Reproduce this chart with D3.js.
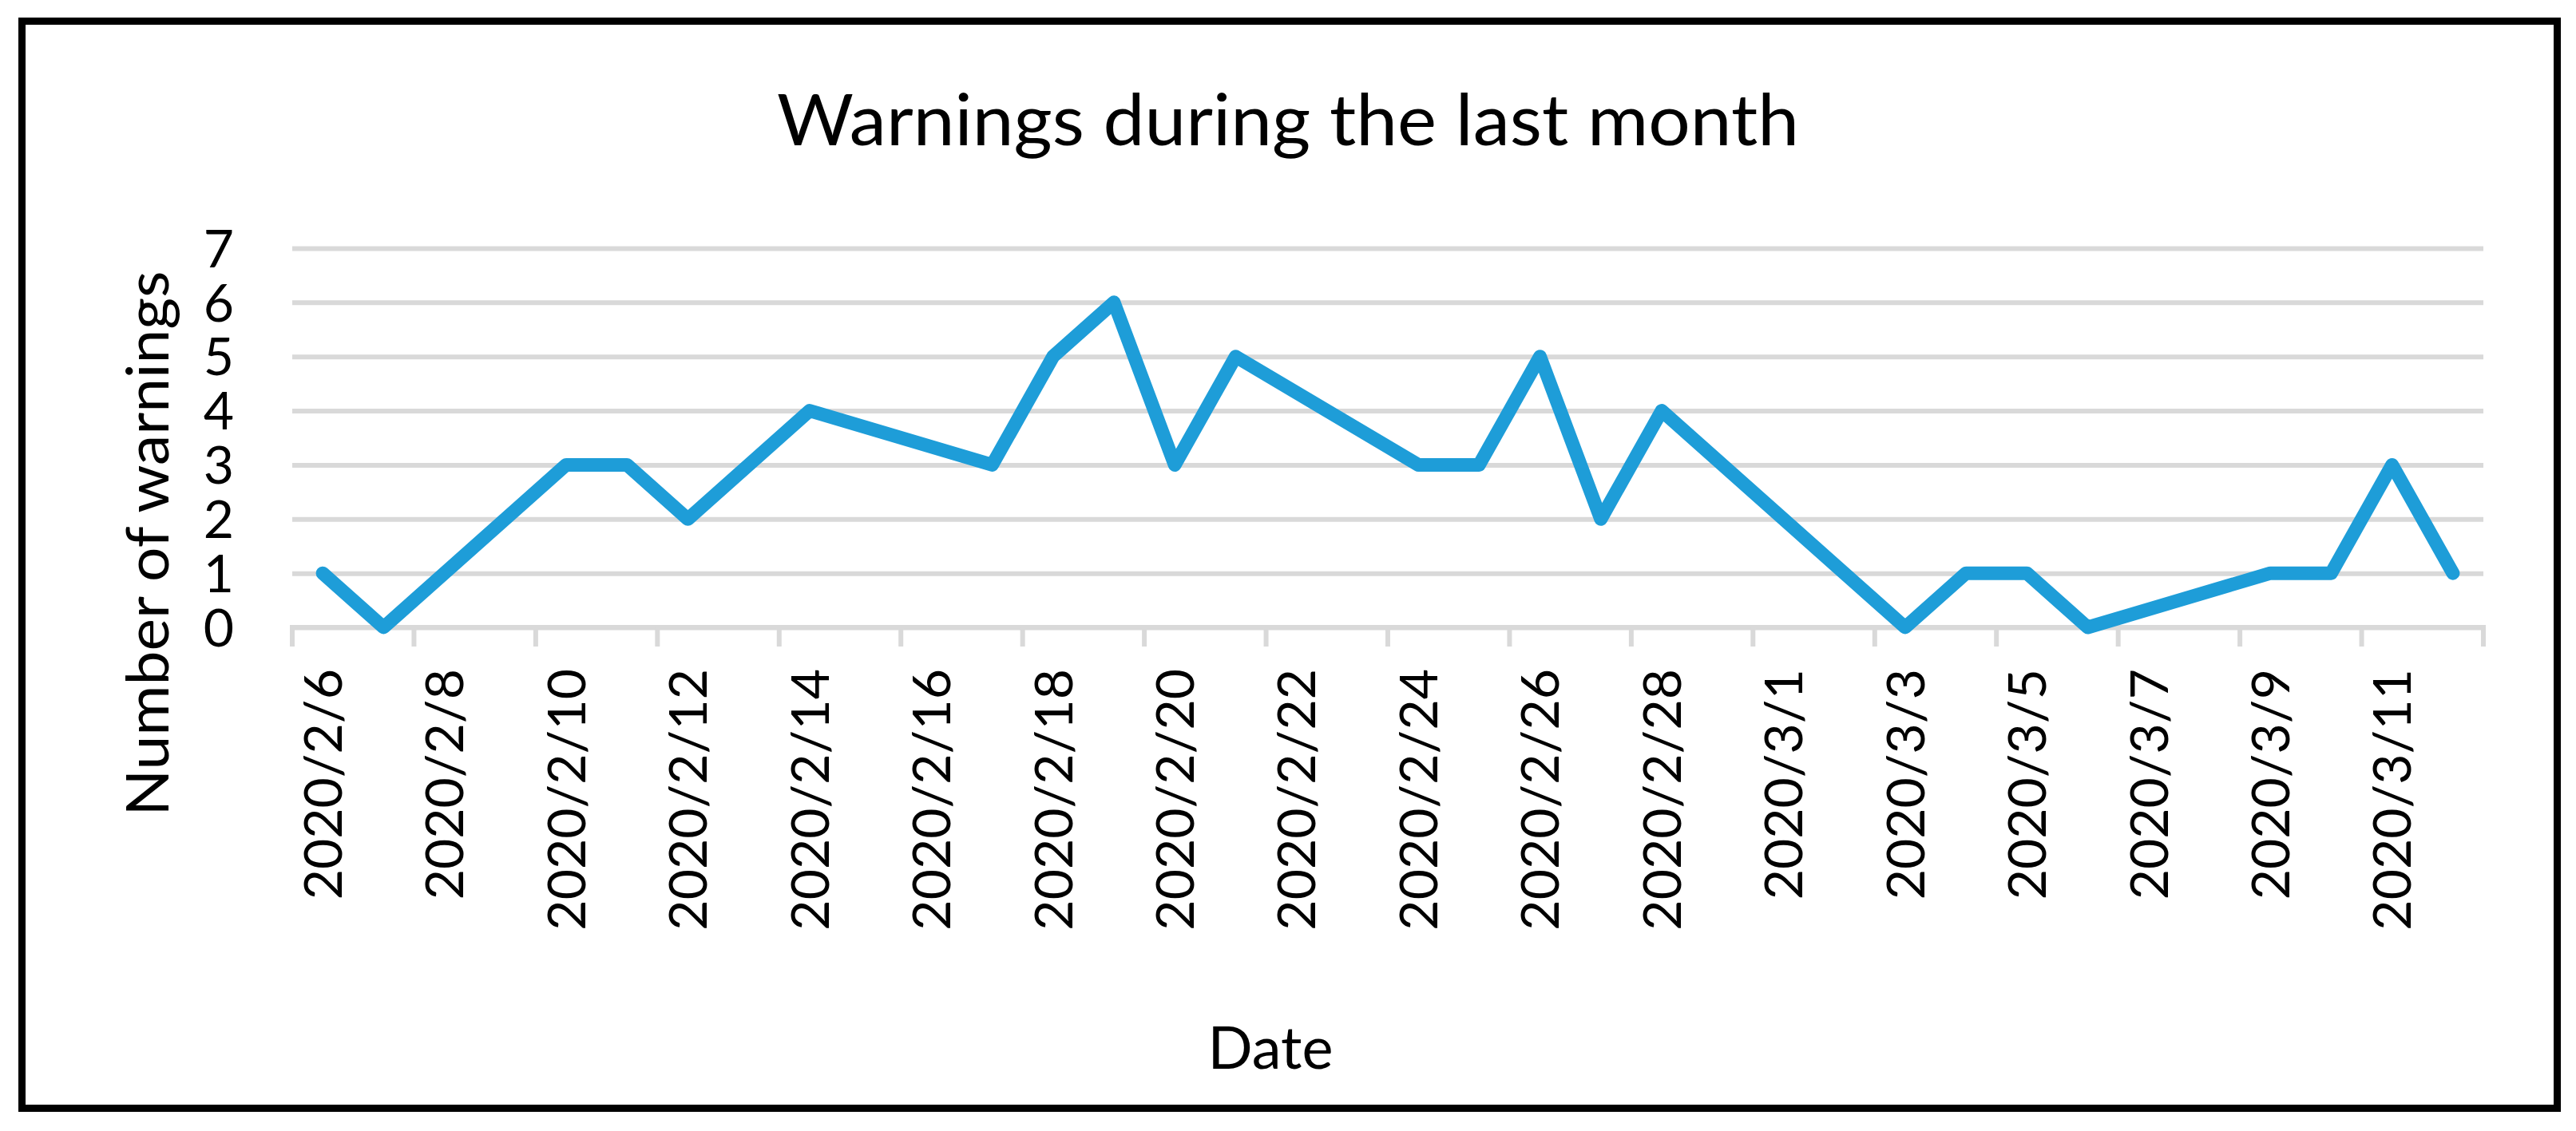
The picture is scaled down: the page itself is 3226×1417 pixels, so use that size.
<!DOCTYPE html>
<html>
<head>
<meta charset="utf-8">
<script src="https://cdn.jsdelivr.net/npm/d3@7"></script>
<style>
  html, body { margin: 0; padding: 0; background: #ffffff; }
  svg { display: block; }
  text { font-family: Lato, "Open Sans", sans-serif; fill: #000; }
</style>
</head>
<body>
<svg id="chart" width="3226" height="1417"></svg>
<script>
// ---- data ----
const chartTitle = "Warnings during the last month";
const xAxisTitle = "Date";
const yAxisTitle = "Number of warnings";

// every day on the category (date) axis
const categories = [
  "2020/2/6","2020/2/7","2020/2/8","2020/2/9","2020/2/10","2020/2/11","2020/2/12",
  "2020/2/13","2020/2/14","2020/2/15","2020/2/16","2020/2/17","2020/2/18","2020/2/19",
  "2020/2/20","2020/2/21","2020/2/22","2020/2/23","2020/2/24","2020/2/25","2020/2/26",
  "2020/2/27","2020/2/28","2020/2/29","2020/3/1","2020/3/2","2020/3/3","2020/3/4",
  "2020/3/5","2020/3/6","2020/3/7","2020/3/8","2020/3/9","2020/3/10","2020/3/11","2020/3/12"
];
// dates that have a recorded value, and the number of warnings on them
const dataDates = [
  "2020/2/6","2020/2/7","2020/2/10","2020/2/11","2020/2/12","2020/2/14","2020/2/17",
  "2020/2/18","2020/2/19","2020/2/20","2020/2/21","2020/2/24","2020/2/25","2020/2/26",
  "2020/2/27","2020/2/28","2020/3/3","2020/3/4","2020/3/5","2020/3/6","2020/3/9",
  "2020/3/10","2020/3/11","2020/3/12"
];
const warnings = [1,0,3,3,2,4,3,5,6,3,5,3,3,5,2,4,0,1,1,0,1,1,3,1];
// tick labels shown on the x axis (every second day)
const xTickLabels = categories.filter((d, i) => i % 2 === 0);
const yTicks = [0,1,2,3,4,5,6,7];

// ---- layout ----
const W = 3226, H = 1417;
const plot = { left: 366, right: 3110, top: 311, bottom: 786 };
const gridColor = "#d9d9d9";
const lineColor = "#1e9dd8";

const svg = d3.select("#chart");
svg.append("rect").attr("width", W).attr("height", H).attr("fill", "#fff");

// outer border
svg.append("rect")
  .attr("x", 27.5).attr("y", 26.5)
  .attr("width", 3202.5 - 27.5).attr("height", 1388.5 - 26.5)
  .attr("fill", "none").attr("stroke", "#000").attr("stroke-width", 9);

const x = d3.scaleBand().domain(categories).range([plot.left, plot.right]).padding(0);
const y = d3.scaleLinear().domain([0, 7]).range([plot.bottom, plot.top]);

// horizontal gridlines (y axis)
const yAxis = d3.axisLeft(y).tickValues(yTicks).tickSize(-(plot.right - plot.left)).tickFormat("");
const gy = svg.append("g").attr("transform", `translate(${plot.left},0)`).call(yAxis);
gy.select(".domain").remove();
gy.selectAll(".tick line").attr("stroke", gridColor).attr("stroke-width", 6);

// y tick labels
svg.append("g").selectAll("text").data(yTicks).join("text")
  .attr("x", 293).attr("y", d => y(d)).attr("dy", "0.36em")
  .attr("text-anchor", "end").attr("font-size", 66)
  .text(d => d);

// x axis line + tick marks at category boundaries every 2 days
const boundaryTicks = categories.filter((d, i) => i % 2 === 0).map(d => x(d)).concat([plot.right]);
svg.append("line")
  .attr("x1", plot.left - 3).attr("x2", plot.right + 3)
  .attr("y1", y(0)).attr("y2", y(0))
  .attr("stroke", gridColor).attr("stroke-width", 6);
svg.append("g").selectAll("line").data(boundaryTicks).join("line")
  .attr("x1", d => d).attr("x2", d => d)
  .attr("y1", y(0)).attr("y2", y(0) + 24)
  .attr("stroke", gridColor).attr("stroke-width", 6);

// x tick labels (rotated)
svg.append("g").selectAll("text").data(xTickLabels).join("text")
  .attr("transform", d => `translate(${x(d) + x.bandwidth() / 2},838) rotate(-90)`)
  .attr("dy", "0.36em").attr("text-anchor", "end").attr("font-size", 66)
  .text(d => d);

// line
const pts = dataDates.map((d, i) => ({ d, v: warnings[i] }));
const line = d3.line().x(p => x(p.d) + x.bandwidth() / 2).y(p => y(p.v));
svg.append("path").datum(pts)
  .attr("d", line).attr("fill", "none")
  .attr("stroke", lineColor).attr("stroke-width", 17)
  .attr("stroke-linejoin", "round").attr("stroke-linecap", "round");

// titles
svg.append("text").attr("x", 1613).attr("y", 182)
  .attr("text-anchor", "middle").attr("font-size", 89)
  .attr("textLength", 1280).attr("lengthAdjust", "spacingAndGlyphs")
  .text(chartTitle);
svg.append("text").attr("x", 1591).attr("y", 1339)
  .attr("text-anchor", "middle").attr("font-size", 74).text(xAxisTitle);
svg.append("text").attr("transform", "translate(211,681) rotate(-90)")
  .attr("text-anchor", "middle").attr("font-size", 74)
  .attr("textLength", 683).attr("lengthAdjust", "spacingAndGlyphs")
  .text(yAxisTitle);
</script>
</body>
</html>
